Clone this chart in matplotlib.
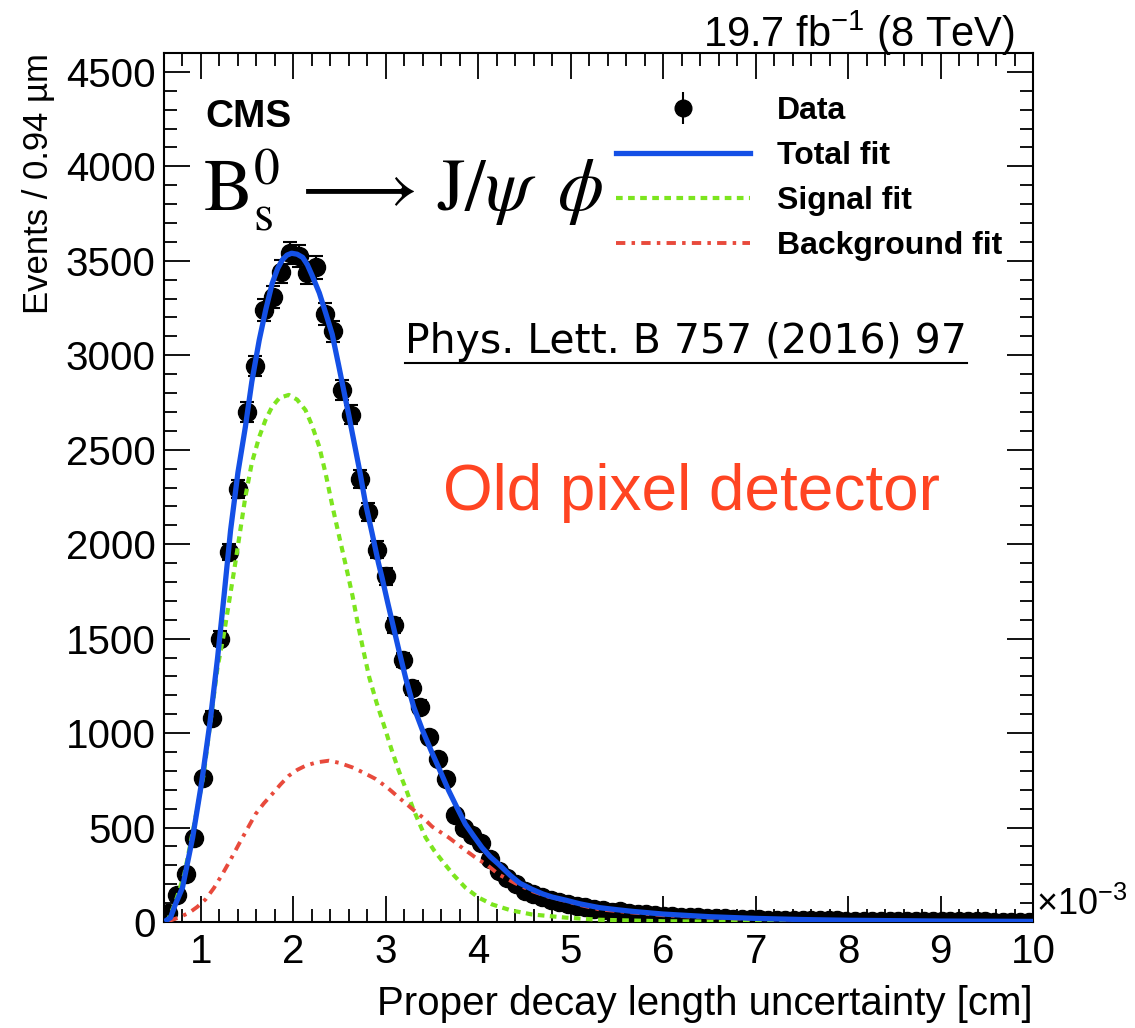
import numpy as np
import matplotlib
matplotlib.use('Agg')
import matplotlib.pyplot as plt
from matplotlib.ticker import MultipleLocator
from matplotlib.lines import Line2D

plt.rcParams['font.family'] = ['Liberation Sans', 'DejaVu Sans']
plt.rcParams['mathtext.fontset'] = 'custom'
plt.rcParams['mathtext.rm'] = 'Liberation Sans'
plt.rcParams['mathtext.it'] = 'Liberation Sans:italic'
plt.rcParams['mathtext.bf'] = 'Liberation Sans:bold'

# histogram: 100 bins of 0.94 um from 0.6e-3 to 10e-3 cm
bin_lo = 0.6
bin_w = 0.094
counts = [48, 143, 255, 445, 763, 1082, 1500, 1958, 2294, 2700,
          2943, 3240, 3310, 3443, 3540, 3526, 3434, 3465, 3218, 3127,
          2814, 2686, 2345, 2170, 1970, 1829, 1570, 1385, 1239, 1140,
          981, 863, 757, 567, 500, 461, 420, 332, 270, 235,
          200, 164, 150, 130, 118, 104, 95, 84, 78, 70,
          62, 54, 58, 48, 44, 40, 36, 33, 31, 28,
          27, 24, 22, 21, 19, 18, 16, 15, 15, 13,
          12, 11, 11, 10, 9, 9, 8, 8, 7, 7,
          6, 6, 6, 5, 5, 5, 4, 4, 4, 4,
          3, 3, 3, 3, 3, 2, 2, 2, 2, 2]

# fit curves
total_x = [0.63, 0.67, 0.72, 0.80, 0.91, 1.01, 1.10, 1.18, 1.25, 1.32,
           1.40, 1.48, 1.55, 1.63, 1.70, 1.77, 1.83, 1.88, 1.93, 1.98,
           2.04, 2.10, 2.15, 2.20, 2.28, 2.35, 2.42, 2.49, 2.55, 2.60,
           2.66, 2.72, 2.78, 2.85, 2.92, 2.96, 3.02, 3.08, 3.14, 3.215,
           3.30, 3.40, 3.50, 3.60, 3.68, 3.77, 3.86, 3.95, 4.04, 4.13,
           4.22, 4.35, 4.45, 4.58, 4.70, 4.80, 4.95, 5.10, 5.31, 5.50,
           5.67, 6.0, 6.5, 7.0, 7.5, 8.0, 9.0, 10.0]
total_y = [10, 23, 90, 182, 447, 748, 1066, 1400, 1730, 2073,
           2380, 2620, 2860, 3080, 3240, 3380, 3460, 3505, 3530, 3540,
           3535, 3518, 3480, 3425, 3330, 3222, 3110, 2945, 2800, 2680,
           2530, 2380, 2215, 2060, 1900, 1820, 1690, 1565, 1440, 1290,
           1140, 1010, 895, 785, 695, 605, 518, 455, 394, 345,
           306, 245, 205, 173, 148, 132, 115, 96, 76, 65,
           56, 42, 28, 19, 13, 9, 5, 3]

signal_x = [0.63, 0.65, 0.72, 0.82, 0.92, 1.03, 1.10, 1.18, 1.25, 1.37,
            1.48, 1.55, 1.63, 1.70, 1.77, 1.85, 1.95, 2.04, 2.13, 2.20,
            2.28, 2.35, 2.42, 2.50, 2.57, 2.64, 2.70, 2.76, 2.82, 2.90,
            2.98, 3.06, 3.14, 3.22, 3.29, 3.36, 3.43, 3.52, 3.61, 3.73,
            3.86, 4.00, 4.15, 4.35, 4.58, 4.95, 5.3, 6.0, 7.0, 8.0, 10.0]
signal_y = [0, 20, 100, 253, 500, 783, 1050, 1350, 1530, 1896,
            2250, 2430, 2568, 2660, 2728, 2775, 2790, 2765, 2710, 2630,
            2515, 2370, 2205, 2030, 1880, 1725, 1570, 1430, 1295, 1160,
            1040, 915, 800, 700, 606, 525, 447, 380, 323, 250,
            182, 130, 93, 62, 40, 23, 12, 4, 1, 0, 0]

bkg_x = [0.65, 0.75, 0.87, 0.96, 1.05, 1.14, 1.23, 1.32, 1.41, 1.50,
         1.59, 1.68, 1.77, 1.86, 1.95, 2.04, 2.13, 2.25, 2.385, 2.50,
         2.64, 2.76, 2.89, 3.02, 3.14, 3.27, 3.40, 3.50, 3.68, 3.86,
         3.97, 4.10, 4.22, 4.40, 4.58, 4.75, 4.95, 5.10, 5.31, 5.67,
         6.0, 6.5, 7.0, 8.0, 9.0, 10.0]
bkg_y = [5, 22, 48, 80, 120, 180, 252, 330, 412, 492,
         571, 628, 677, 728, 774, 805, 827, 845, 854, 842,
         818, 790, 757, 710, 659, 605, 553, 505, 447, 380,
         341, 300, 252, 205, 164, 135, 111, 90, 67, 50,
         36, 24, 16, 8, 5, 3]

W, H = 1135, 1028
fig = plt.figure(figsize=(W / 100, H / 100), dpi=100)
ax = fig.add_axes([164 / W, 1 - 922 / H, (1033 - 164) / W, (922 - 53) / H])

centers = bin_lo + bin_w * (np.arange(len(counts)) + 0.5)
cnt = np.array(counts, dtype=float)
ax.errorbar(centers, cnt, yerr=np.sqrt(cnt), fmt='o', ms=13, color='k',
            ecolor='k', elinewidth=1.5, capsize=5, capthick=1.5, zorder=2)
# legend proxy without caps, like the ROOT legend
data_proxy = ax.errorbar([np.nan], [np.nan], yerr=[1.0], fmt='o', ms=12,
                         color='k', elinewidth=1.5, capsize=0)

l_tot, = ax.plot(total_x, total_y, color='#1450e6', lw=3.8, zorder=6)
l_sig, = ax.plot(signal_x, signal_y, color='#7ce51e', lw=3.0,
                 ls=(0, (1.6, 1.3)), zorder=5)
l_bkg, = ax.plot(bkg_x, bkg_y, color='#e84a3c', lw=2.8,
                 ls=(0, (2.4, 1.6, 0.9, 1.6)), zorder=5)

ax.set_xlim(0.6, 10)
ax.set_ylim(0, 4600)
ax.xaxis.set_major_locator(MultipleLocator(1))
ax.xaxis.set_minor_locator(MultipleLocator(0.2))
ax.yaxis.set_major_locator(MultipleLocator(500))
ax.yaxis.set_minor_locator(MultipleLocator(100))
ax.tick_params(which='both', direction='in', top=True, right=True, width=1.3,
               labelsize=29)
ax.tick_params(which='major', length=19)
ax.tick_params(which='minor', length=9.5)
ax.tick_params(axis='x', pad=8)
ax.tick_params(axis='y', pad=6)
for s in ax.spines.values():
    s.set_linewidth(1.5)

ax.set_xlabel('Proper decay length uncertainty [cm]', loc='right', fontsize=29,
              labelpad=10)
ax.set_ylabel('Events / 0.94 µm', loc='top', fontsize=25, labelpad=8)

leg = ax.legend([data_proxy, l_tot, l_sig, l_bkg],
                ['Data', 'Total fit', 'Signal fit', 'Background fit'],
                loc='upper left', bbox_to_anchor=(616 / W, 1 - 96 / H),
                bbox_transform=fig.transFigure, frameon=False,
                prop={'weight': 'bold', 'size': 23}, borderpad=0,
                borderaxespad=0, handlelength=4.2, handletextpad=0.85,
                labelspacing=0.47)

fig.text(205 / W, 1 - 117 / H, 'CMS', weight='bold', fontsize=28, va='center')
fig.text(203 / W, 1 - 190 / H,
         r'$\mathrm{B}^{0}_{\mathrm{s}}\,\longrightarrow\,\mathrm{J}/\psi\;\;\phi$',
         math_fontfamily='stix', fontsize=53, va='center')
fig.text(1015 / W, 1 - 33 / H, r'19.7 fb$^{-1}$ (8 TeV)', ha='right', va='center',
         fontsize=30)
fig.text(1036 / W, 1 - 905 / H, r'$\times$10$^{-3}$', ha='left', va='center',
         fontsize=26)
ref = fig.text(405 / W, 1 - 342 / H, 'Phys. Lett. B 757 (2016) 97',
               family='DejaVu Sans', fontsize=29.5, va='center')
fig.text(443 / W, 1 - 493 / H, 'Old pixel detector', color='#ff4422',
         fontsize=46, va='center')

# underline the reference
fig.canvas.draw()
bb = ref.get_window_extent().transformed(fig.transFigure.inverted())
fig.add_artist(Line2D([bb.x0, bb.x1], [bb.y0 - 0.001, bb.y0 - 0.001],
                      transform=fig.transFigure, color='k', lw=1.5))

fig.savefig('out.png', dpi=100, facecolor='white')
